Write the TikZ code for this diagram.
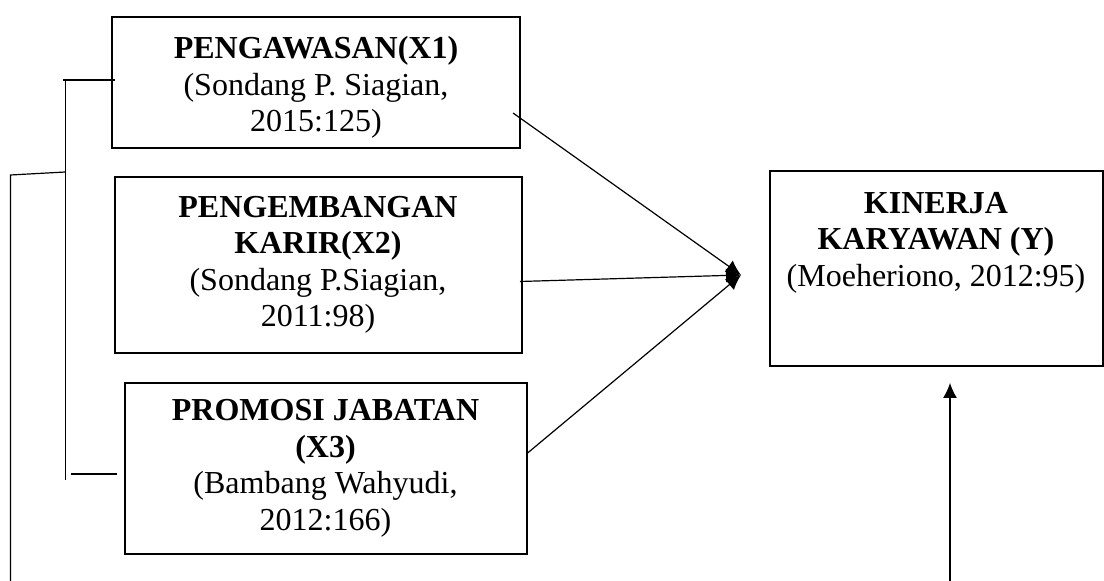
\documentclass[tikz,border=0pt]{standalone}
\usepackage{fontspec}
\setmainfont{Liberation Serif}
\usetikzlibrary{positioning}
\usetikzlibrary{arrows.meta}
\tikzset{
  varbox/.style={draw, line width=1pt, align=center, inner sep=0pt,
    font=\fontsize{16pt}{18.25pt}\selectfont},
  link/.style={line width=0.6pt},
  pointer/.style={line width=0.6pt, -{Latex[length=7.5pt,width=7pt]}}
}

\begin{document}
\begin{tikzpicture}[x=0.5pt, y=-0.5pt]
          \useasboundingbox (0,0) rectangle (1104,581);
          \node[varbox, minimum width=203.75pt, minimum height=65.5pt] (pengawasan) at (316,82.5)
            {\rule{0pt}{16pt}\textbf{PENGAWASAN(X1)}\\(Sondang P. Siagian,\\2015:125)};
          \node[varbox, minimum width=203.5pt, minimum height=88pt] (karir) at (318,265)
            {\textbf{PENGEMBANGAN}\\\textbf{KARIR(X2)}\\(Sondang P.Siagian,\\2011:98)};
          \node[varbox, minimum width=201pt, minimum height=85.5pt] (promosi) at (325.5,468.3)
            {\textbf{PROMOSI JABATAN}\\\textbf{(X3)}\\(Bambang Wahyudi,\\2012:166)};
          \node[varbox, minimum width=166.5pt, minimum height=97.5pt] (kinerja) at (936,268.5)
            {\textbf{KINERJA}\\\textbf{KARYAWAN (Y)}\\(Moeheriono, 2012:95)\\[11pt]\mbox{}};
          % arrows into Y
          \coordinate (meet) at (741,275);
          \coordinate (outX1) at (513,113);
          \coordinate (outX2) at (520,281.5);
          \coordinate (outX3) at (527,453.5);
          \draw[pointer] (outX1) -- (meet);
          \draw[pointer] (outX2) -- (meet);
          \draw[pointer] (outX3) -- (meet);
          \coordinate (below) at (950,581);
          \draw[pointer] (below) -- (950,383);
          % bracket on the left
          \coordinate (topL) at (63,80);
          \coordinate (topR) at (115,80);
          \coordinate (spineT) at (65.5,80);
          \coordinate (spineB) at (65.5,480);
          \coordinate (botL) at (71,474);
          \coordinate (botR) at (117,474);
          \coordinate (midR) at (65.5,172);
          \coordinate (midL) at (10.5,175);
          \coordinate (outerB) at (10.5,581);
          \draw[link] (topL) -- (topR);
          \draw[link] (spineT) -- (spineB);
          \draw[link] (botL) -- (botR);
          \draw[link] (midR) -- (midL) -- (outerB);
        \end{tikzpicture}
\end{document}
